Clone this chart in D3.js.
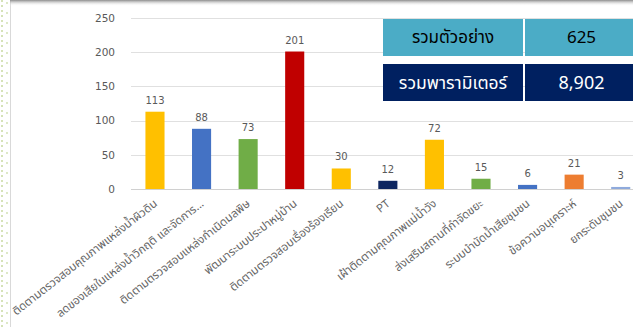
<!DOCTYPE html>
<html>
<head>
<meta charset="utf-8">
<script src="https://cdn.jsdelivr.net/npm/d3@7"></script>
<style>
  body { margin: 0; background: #fff; }
  svg { display: block; }
</style>
</head>
<body>
<svg id="chart" width="633" height="327"></svg>
<script>
// Work items and the number of samples counted for each
const categories = [
  "ติดตามตรวจสอบคุณภาพแหล่งน้ำผิวดิน",
  "ลดของเสียในแหล่งน้ำวิกฤติ และจัดการ...",
  "ติดตามตรวจสอบแหล่งกำเนิดมลพิษ",
  "พัฒนาระบบประปาหมู่บ้าน",
  "ติดตามตรวจสอบเรื่องร้องเรียน",
  "PT",
  "เฝ้าติดตามคุณภาพแม่น้ำวัง",
  "ส่งเสริมสถานที่กำจัดขยะ",
  "ระบบบำบัดน้ำเสียชุมชน",
  "ข้อความอนุเคราะห์",
  "ยกระดับชุมชน"
];
const values = [113, 88, 73, 201, 30, 12, 72, 15, 6, 21, 3];
const barColors = ["#FFC000", "#4472C4", "#70AD47", "#C00000", "#FFC000", "#0E2660",
                   "#FFC000", "#70AD47", "#4472C4", "#ED7D31", "#8FAADC"];
const yTicks = [0, 50, 100, 150, 200, 250];

// Summary box
const summaryLabels = ["รวมตัวอย่าง", "รวมพารามิเตอร์"];
const summaryValues = [625, 8902];
const summaryFills = ["#4BACC6", "#002060"];
const summaryText = ["#000000", "#FFFFFF"];

const W = 633, H = 327;
const svg = d3.select("#chart");

const thaiFont = "'Noto Sans Thai', 'Leelawadee UI', Tahoma, 'Noto Sans', sans-serif";
const numFont = "'DejaVu Sans', Verdana, sans-serif";

// Page decoration: dotted margin strip, divider and top shadow
const defs = svg.append("defs");
const pat = defs.append("pattern").attr("id", "dots")
  .attr("width", 10).attr("height", 10).attr("patternUnits", "userSpaceOnUse");
pat.append("rect").attr("x", 1).attr("y", 0).attr("width", 2).attr("height", 2).attr("fill", "#d5e2b8");
pat.append("rect").attr("x", 1).attr("y", 5).attr("width", 2).attr("height", 2).attr("fill", "#d5e2b8");
pat.append("rect").attr("x", 6).attr("y", 2).attr("width", 2).attr("height", 2).attr("fill", "#dde8c6");
const shade = defs.append("linearGradient").attr("id", "topShade")
  .attr("x1", 0).attr("y1", 0).attr("x2", 0).attr("y2", 1);
shade.append("stop").attr("offset", 0).attr("stop-color", "#8c8c8c");
shade.append("stop").attr("offset", 1).attr("stop-color", "#ffffff").attr("stop-opacity", 0);

svg.append("rect").attr("x", 0).attr("y", 0).attr("width", 9).attr("height", H).attr("fill", "url(#dots)");
svg.append("line").attr("x1", 10.5).attr("x2", 10.5).attr("y1", 0).attr("y2", H)
  .attr("stroke", "#d9d9d9");
svg.append("rect").attr("x", 10).attr("y", 0).attr("width", W - 10).attr("height", 6)
  .attr("fill", "url(#topShade)");

// Scales
const x = d3.scaleBand().domain(categories).range([131.7, 644])
  .paddingInner(0.59).paddingOuter(0.295);
const y = d3.scaleLinear().domain([0, 250]).range([189, 18]);

// Gridlines
svg.append("g").selectAll("line").data(yTicks).join("line")
  .attr("x1", 131).attr("x2", W)
  .attr("y1", d => Math.round(y(d)) + 0.5).attr("y2", d => Math.round(y(d)) + 0.5)
  .attr("stroke", d => d === 0 ? "#d0d0d0" : "#e0e0e0").attr("stroke-width", 1);

// Y axis labels
const yAxis = d3.axisLeft(y).tickValues(yTicks).tickSize(0).tickPadding(0);
const gy = svg.append("g").attr("transform", "translate(115,0)").call(yAxis);
gy.select(".domain").remove();
gy.selectAll("text").attr("font-family", numFont).attr("font-size", 10.5)
  .attr("fill", "#595959");

// Bars
svg.append("g").selectAll("rect").data(values).join("rect")
  .attr("x", (d, i) => x(categories[i]))
  .attr("width", x.bandwidth())
  .attr("y", d => y(d))
  .attr("height", d => y(0) - y(d))
  .attr("fill", (d, i) => barColors[i]);

// Value labels
svg.append("g").selectAll("text").data(values).join("text")
  .attr("x", (d, i) => x(categories[i]) + x.bandwidth() / 2)
  .attr("y", d => y(d) - 8)
  .attr("text-anchor", "middle")
  .attr("font-family", numFont).attr("font-size", 10)
  .attr("fill", "#595959")
  .text(d => d);

// Category labels, rotated; size chosen so the longest label spans ~180px
const xAxis = d3.axisBottom(x).tickSize(0).tickPadding(0);
const gx = svg.append("g").attr("transform", `translate(0,${y(0)})`).call(xAxis);
gx.select(".domain").remove();
const labels = gx.selectAll("text")
  .attr("font-family", thaiFont).attr("font-size", 10)
  .attr("fill", "#666666")
  .attr("text-anchor", "end")
  .attr("dy", 0)
  .attr("transform", "translate(3,16) rotate(-38)");
const firstLen = labels.node().getComputedTextLength();
const labelSize = Math.max(8, Math.min(14, 10 * 180 / firstLen));
labels.attr("font-size", labelSize);

// Summary table
const tbl = svg.append("g");
const rowTop = [19, 64], rowH = 37;
const colX = [383, 525], colW = [140, 110];
summaryLabels.forEach((lab, i) => {
  tbl.append("rect").attr("x", colX[0]).attr("y", rowTop[i]).attr("width", colW[0]).attr("height", rowH)
    .attr("fill", summaryFills[i]);
  tbl.append("rect").attr("x", colX[1]).attr("y", rowTop[i]).attr("width", colW[1]).attr("height", rowH)
    .attr("fill", summaryFills[i]);
  const fs = i === 0 ? 17 : 17.5;
  tbl.append("text").attr("x", colX[0] + colW[0] / 2).attr("y", rowTop[i] + rowH / 2)
    .attr("dy", "0.35em").attr("text-anchor", "middle")
    .attr("font-family", thaiFont).attr("font-size", fs).attr("fill", summaryText[i])
    .text(lab);
  tbl.append("text").attr("x", 581.5).attr("y", rowTop[i] + rowH / 2)
    .attr("dy", "0.35em").attr("text-anchor", "middle")
    .attr("font-family", thaiFont).attr("font-size", i === 0 ? 17 : 18).attr("fill", summaryText[i])
    .text(d3.format(",")(summaryValues[i]));
});
</script>
</body>
</html>
